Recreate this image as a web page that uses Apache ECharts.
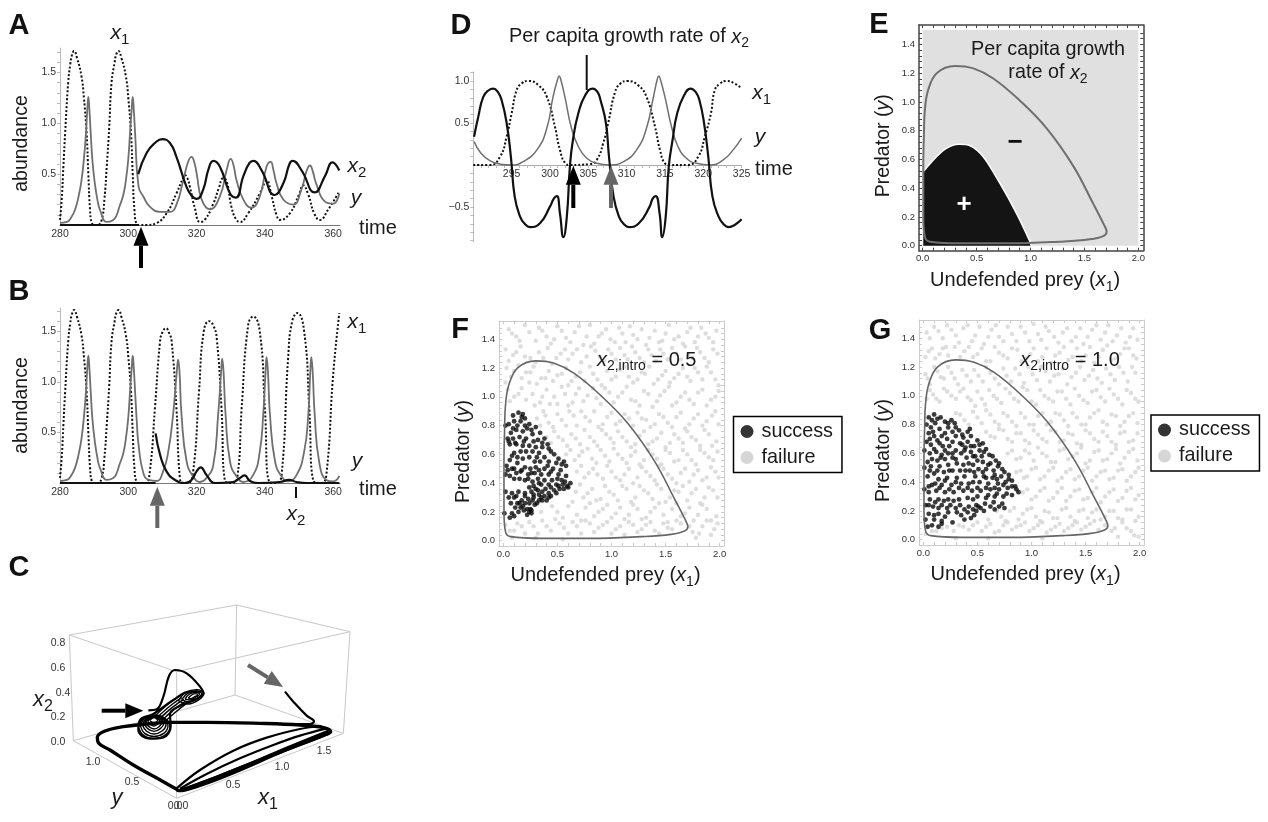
<!DOCTYPE html>
<html><head><meta charset="utf-8">
<style>html,body{margin:0;padding:0;background:#fff}#c{width:1268px;height:822px}</style>
<script src="https://cdn.jsdelivr.net/npm/echarts@6/dist/echarts.min.js"></script></head>
<body><div id="c"></div><script>
// ---------- time series (t, value) ----------
const x1Lead=[[280,.05],[280.5,.25],[281,.58],[281.5,.9],[282.4,1.4],[283,1.58],[283.5,1.67],[284.1,1.71],[285,1.64],[286.3,1.46],[287,1.25],[287.8,.9],[288.3,.5],[288.8,.15],[289.3,.02],[290,0],[291,0],[292.2,.05],[293,.25],[293.7,.58],[294.4,.95],[295.1,1.4],[296,1.6],[296.5,1.68],[297.1,1.71],[298,1.64],[299.3,1.46],[300,1.25],[300.8,.9],[301.3,.5],[301.8,.15],[302.5,.01]];
const yLead=[[280,.02],[282,.03],[283.2,.07],[284.4,.15],[285.5,.29],[286.3,.44],[287,.65],[287.6,.9],[288,1.14],[288.3,1.26],[288.6,1.14],[289,.9],[289.5,.63],[290.2,.41],[291,.24],[291.7,.15],[293.7,.03],[295.6,.05],[296.5,.09],[297.4,.18],[298.5,.29],[299.3,.44],[300,.65],[300.5,.9],[301,1.14],[301.3,1.26],[301.6,1.14],[302,.9]];
const x1A=x1Lead.concat([[303.5,0],[305.4,0],[308.3,.02],[311.2,.115],[314.1,.31],[316,.46],[316.6,.49],[317.3,.46],[318,.38],[319.5,.165],[321,.03],[322.4,.05],[324.9,.21],[326.5,.36],[327.8,.46],[328.8,.43],[330.2,.18],[331.5,.06],[332.7,.03],[335.1,.115],[338.5,.31],[340,.42],[340.5,.44],[342,.28],[343.4,.1],[344.4,.05],[347.3,.115],[350,.3],[351.2,.39],[352.7,.3],[354.5,.11],[356.1,.05],[358.5,.15],[361.8,.33]]);
const yA=yLead.concat([[303,.38],[304.4,.28],[306.3,.18],[309.3,.13],[312.2,.13],[314.1,.2],[316.1,.44],[317.5,.62],[318.5,.67],[319.3,.62],[320,.51],[321.5,.25],[323.9,.155],[326.8,.28],[328.8,.54],[330,.65],[330.8,.59],[331.7,.44],[333.7,.25],[336,.17],[338.5,.28],[340.5,.575],[341.7,.62],[342.5,.54],[343.4,.41],[345.4,.25],[348.3,.2],[350.7,.35],[352.3,.54],[353.2,.585],[354,.53],[355,.41],[357.6,.23],[360,.21],[361.8,.31]]);
const x2A=[[280,0],[302.9,0],[null,null],[302.9,.5],[305.4,.71],[307.8,.806],[310,.845],[312.2,.806],[314.1,.67],[317,.38],[318.5,.29],[320,.257],[321.9,.345],[323.5,.55],[324.9,.63],[326.8,.575],[329.8,.31],[331.5,.27],[333.7,.48],[335.5,.61],[336.6,.63],[339,.54],[342.9,.295],[345.4,.41],[347.2,.6],[348.1,.63],[350.7,.54],[354.6,.32],[357.6,.48],[359.8,.615],[361.8,.535]];
const x1B=x1Lead.concat([[303.5,0],[305.1,0],[306.3,.115],[307.8,.74],[309.3,1.4],[310,1.49],[311,1.53],[312,1.48],[312.7,1.4],[314.1,.74],[315.1,.05],[316,0],[317.5,0],[319,.115],[320.7,.9],[322.1,1.5],[323.7,1.6],[325,1.55],[325.9,1.43],[327.3,.74],[328.3,.02],[330.2,0],[331.9,.05],[333.2,.74],[335.1,1.56],[336.6,1.645],[338.5,1.5],[340,.74],[341.3,.01],[343.4,0],[344.9,.08],[346.8,1.23],[348,1.6],[349.5,1.68],[351.5,1.5],[353,.74],[354.2,.02],[356.6,0],[358,.08],[360,1.07],[361.8,1.68]]);
const yB=yLead.concat([[302.5,.6],[303,.38],[304.4,.1],[306,.03],[308.3,.02],[310.2,.115],[311.7,.31],[313.1,.67],[314.2,1.1],[314.6,1.22],[315,1.1],[315.6,.67],[317.1,.21],[319,.065],[321,.01],[322.9,.05],[324.9,.18],[326.3,.67],[327.2,1.1],[327.5,1.23],[327.9,1.1],[328.5,.67],[329.8,.21],[331.7,.065],[333.7,.01],[336.6,.08],[338.5,.31],[339.5,.67],[340.2,1.1],[340.5,1.245],[340.9,1.1],[341.5,.67],[343,.21],[344.9,.065],[346.8,.016],[349.3,.08],[351.5,.31],[352.7,.67],[353.3,1.1],[353.6,1.245],[354,1.1],[354.6,.67],[355.9,.21],[358,.03],[360,.016],[361.8,.07]]);
const x2B=[[280,0],[308,0],[null,null],[308,.49],[309.3,.28],[311.2,.115],[313.7,.03],[316.6,0],[318.5,.03],[320,.115],[321.2,.155],[322.9,.08],[325.4,0],[330.7,.01],[332.7,.05],[334.1,.075],[335.6,.02],[338,0],[344.4,.01],[347.1,.03],[349.3,.01],[352.2,0],[361.8,0]];
const rateD=[[290.1,.337],[290.65,.575],[291.3,.81],[292,.89],[292.6,.91],[293.2,.87],[293.7,.77],[294.35,.5],[294.9,.1],[295.4,-.377],[296.1,-.615],[296.7,-.7],[297.4,-.74],[298.7,-.694],[300,-.496],[300.5,-.4],[300.9,-.37],[301.3,-.575],[301.75,-.86],[302.2,-.615],[302.6,-.02],[303,.3],[303.7,.615],[304.6,.83],[305.6,.91],[306.2,.87],[306.6,.77],[307.3,.5],[307.7,.1],[308.3,-.377],[309,-.615],[309.6,-.7],[310.3,-.74],[311.6,-.694],[313,-.496],[313.4,-.4],[313.8,-.37],[314.3,-.575],[314.65,-.86],[315.1,-.615],[315.5,-.02],[316,.3],[316.6,.615],[317.5,.83],[318.35,.91],[319,.87],[319.5,.77],[320.1,.5],[320.65,.1],[321.2,-.377],[322,-.615],[322.6,-.7],[323.3,-.74],[324.1,-.714],[325,-.647]];
const x1D=[[290,0],[292.2,0],[293.5,.1],[294.35,.337],[295,.615],[295.65,.89],[296.3,.97],[297.2,1],[298.5,.95],[299.6,.81],[300.65,.456],[301.3,.18],[302,.02],[302.6,0],[305.2,.01],[306.1,.06],[306.95,.26],[307.6,.5],[308.5,.87],[309.2,.97],[310.1,1],[311.5,.95],[312.6,.81],[313.7,.456],[314.35,.18],[315,.02],[315.65,0],[318,0],[319.35,.1],[320.2,.337],[321,.615],[321.5,.89],[322.2,.97],[323,1],[324.1,.97],[325,.91]];
const yD=[[290.1,.28],[291,.14],[292.2,.05],[293.5,.01],[295,0],[296.5,.04],[298.3,.18],[299.6,.44],[300.4,.81],[301,1.02],[301.2,1.06],[301.4,1.02],[301.95,.81],[302.8,.44],[303.7,.22],[304.8,.08],[306.1,.02],[307.8,0],[309.6,.04],[311.3,.18],[312.6,.44],[313.5,.81],[314,1.02],[314.2,1.06],[314.4,1.02],[315,.81],[315.9,.44],[316.7,.22],[317.8,.08],[319.1,.02],[320.9,0],[322.6,.06],[323.9,.18],[325,.32]];
// ---------- phase plane (x1, y) ----------
const limitCycle=[[.006,.2],[.006,.55],[.012,.78],[.02,.94],[.05,1.08],[.13,1.2],[.3,1.25],[.47,1.233],[.655,1.163],[.9,1.01],[1.15,.816],[1.4,.55],[1.58,.294],[1.69,.132],[1.706,.097],[1.675,.067],[1.55,.044],[1.27,.028],[.81,.016],[.35,.016],[.068,.028],[.02,.063],[.006,.2]];
const plusRegion=[[.006,.515],[.13,.62],[.22,.677],[.33,.705],[.44,.695],[.56,.62],[.717,.433],[.87,.225],[.995,.028],[1.005,0]];
const minusRegion=[[0,1.5],[2,1.5]];
const panelTicksX=[0,.5,1,1.5,2], panelTicksY=[0,.2,.4,.6,.8,1,1.2,1.4];
const minorX=[0,.1,.2,.3,.4,.5,.6,.7,.8,.9,1,1.1,1.2,1.3,1.4,1.5,1.6,1.7,1.8,1.9,2];
const minorY=[0,.04,.08,.12,.16,.2,.24,.28,.32,.36,.4,.44,.48,.52,.56,.6,.64,.68,.72,.76,.8,.84,.88,.92,.96,1,1.04,1.08,1.12,1.16,1.2,1.24,1.28,1.32,1.36,1.4,1.44,1.48];
// ---------- introductions, flat x,y pairs ----------
const failureF=[.05,1.47,.12,1.42,.2,1.5,.3,1.39,.36,1.46,.44,1.37,.5,1.49,.58,1.41,.66,1.45,.74,1.36,.8,1.5,.88,1.42,.95,1.47,1.03,1.38,1.1,1.44,1.17,1.49,1.24,1.4,1.32,1.36,1.4,1.46,1.47,1.39,1.53,1.5,1.62,1.42,1.7,1.45,1.77,1.38,1.83,1.48,1.9,1.41,1.97,1.46,
.02,1.33,.09,1.29,.16,1.35,.25,1.27,.33,1.31,.41,1.34,.53,1.3,.6,1.26,.68,1.33,.77,1.28,.85,1.32,.93,1.25,1,1.3,1.08,1.34,1.15,1.26,1.22,1.31,1.3,1.24,1.37,1.29,1.45,1.33,1.52,1.26,1.6,1.3,1.68,1.35,1.75,1.27,1.82,1.31,1.9,1.24,1.98,1.3,
.03,1.2,.07,1.14,.14,1.22,.21,1.17,.28,1.21,.35,1.13,.24,1.1,.42,1.18,.5,1.15,.58,1.2,.63,1.11,.71,1.17,.8,1.21,.87,1.12,.96,1.18,1.04,1.14,1.12,1.21,1.2,1.1,1.28,1.17,1.35,1.21,1.43,1.12,1.5,1.18,1.58,1.13,1.66,1.2,1.73,1.11,1.8,1.17,1.88,1.21,1.96,1.12,
.04,1.05,.1,1,.17,1.06,.27,1.02,.34,.96,.4,1.05,.37,.9,.47,1,.54,1.07,.6,.94,.67,1.02,.74,.97,.83,1.06,.9,.95,.98,1.03,1.06,1,1.14,1.07,1.22,.97,1.3,1.04,1.38,.93,1.45,1.01,1.53,1.07,1.6,.96,1.68,1.03,1.76,.95,1.84,1.05,1.92,.98,1.99,1.04,
.31,.85,.42,.82,.5,.88,.58,.8,.65,.87,.72,.9,.8,.83,.88,.79,.96,.86,1.04,.81,1.12,.88,1.2,.8,1.28,.85,1.36,.79,1.44,.88,1.52,.82,1.6,.86,1.68,.78,1.76,.85,1.84,.8,1.93,.87,1.99,.81,
.4,.72,.47,.76,.55,.7,.63,.74,.71,.67,.8,.72,.87,.66,.95,.74,1.02,.68,1.1,.72,1.18,.65,1.26,.73,1.34,.67,1.42,.71,1.5,.65,1.58,.74,1.66,.68,1.74,.72,1.82,.66,1.9,.74,1.97,.69,
.58,.6,.66,.56,.73,.62,.82,.57,.9,.63,.98,.55,1.06,.6,1.14,.54,1.22,.62,1.3,.56,1.38,.6,1.46,.53,1.54,.61,1.62,.56,1.7,.6,1.78,.53,1.86,.61,1.94,.56,
.68,.48,.75,.44,.83,.5,.92,.43,1,.48,1.08,.42,1.16,.5,1.24,.44,1.32,.48,1.4,.42,1.48,.5,1.56,.43,1.64,.47,1.72,.41,1.8,.49,1.88,.44,1.96,.48,
.67,.34,.74,.3,.82,.36,.9,.29,.98,.34,1.06,.28,1.14,.36,1.22,.3,1.3,.35,1.38,.29,1.46,.36,1.54,.3,1.62,.34,1.7,.28,1.78,.36,1.86,.3,1.94,.35,
.5,.2,.6,.24,.68,.18,.76,.23,.84,.17,.92,.22,1,.16,1.08,.23,1.16,.18,1.24,.22,1.32,.16,1.4,.23,1.48,.18,1.56,.22,1.64,.17,1.72,.23,1.8,.18,1.88,.22,1.97,.17,
.02,.11,.06,.07,.13,.12,.2,.05,.28,.1,.36,.14,.44,.07,.52,.12,.6,.05,.68,.1,.76,.14,.84,.06,.92,.11,1,.05,1.08,.1,1.16,.13,1.24,.06,1.32,.11,1.4,.07,1.48,.12,1.56,.08,1.64,.12,1.75,.06,1.78,.02,1.84,.1,1.92,.04,1.98,.12,.08,.02,.3,.02,.55,.01,
.08,1.44,.15,1.39,.24,1.45,.33,1.48,.4,1.42,.47,1.4,.54,1.46,.62,1.38,.7,1.49,.77,1.42,.84,1.37,.91,1.44,.99,1.4,1.07,1.48,1.13,1.38,1.2,1.43,1.28,1.47,1.35,1.41,1.44,1.38,1.5,1.44,1.58,1.4,1.66,1.37,1.73,1.48,1.8,1.42,1.87,1.44,1.94,1.38,
.05,1.25,.12,1.31,.2,1.28,.3,1.24,.37,1.27,.45,1.23,.49,1.27,.57,1.33,.64,1.3,.72,1.24,.81,1.35,.89,1.28,.97,1.33,1.04,1.26,1.12,1.29,1.19,1.35,1.26,1.27,1.34,1.33,1.41,1.25,1.48,1.3,1.56,1.34,1.64,1.26,1.71,1.29,1.79,1.34,1.86,1.27,1.94,1.33,
.02,1.1,.1,1.18,.17,1.13,.25,1.17,.31,1.09,.39,1.13,.46,1.11,.54,1.16,.6,1.08,.67,1.14,.75,1.11,.83,1.16,.91,1.08,1,1.12,1.08,1.19,1.16,1.14,1.24,1.12,1.31,1.16,1.39,1.09,1.47,1.15,1.54,1.1,1.62,1.16,1.7,1.14,1.77,1.2,1.84,1.12,1.92,1.17,1.99,1.08,
.06,.97,.14,1.02,.21,.98,.29,.94,.43,.95,.36,1,.5,.95,.57,1.02,.64,.96,.7,1.06,.78,1.01,.86,.99,.94,1.06,1.02,.96,1.1,1.03,1.18,.98,1.26,.94,1.34,1.02,1.42,.97,1.49,1.04,1.56,.94,1.64,1,1.72,.98,1.8,1.03,1.88,.94,1.96,1,
.34,.8,.39,.87,.46,.79,.54,.84,.61,.9,.68,.8,.76,.86,.84,.9,.92,.81,1,.89,1.08,.83,1.16,.85,1.24,.89,1.32,.84,1.4,.81,1.48,.86,1.56,.79,1.64,.89,1.72,.81,1.8,.88,1.88,.83,1.96,.9,
.44,.68,.51,.72,.59,.66,.67,.71,.75,.77,.84,.69,.91,.77,.99,.71,1.06,.76,1.14,.69,1.22,.67,1.3,.76,1.38,.69,1.46,.75,1.54,.68,1.62,.71,1.7,.76,1.78,.7,1.86,.77,1.93,.66,
.62,.63,.7,.59,.78,.64,.86,.54,.94,.59,1.02,.64,1.1,.57,1.18,.59,1.26,.53,1.34,.63,1.42,.57,1.5,.63,1.58,.55,1.66,.63,1.74,.56,1.82,.63,1.9,.58,1.98,.62,
.72,.52,.79,.47,.87,.46,.96,.52,1.04,.44,1.12,.46,1.2,.4,1.28,.51,1.36,.45,1.44,.52,1.52,.46,1.6,.4,1.68,.5,1.76,.46,1.84,.42,1.92,.51,1.99,.44,
.71,.39,.78,.33,.86,.28,.94,.38,1.02,.32,1.1,.38,1.18,.27,1.26,.38,1.34,.33,1.42,.39,1.5,.27,1.58,.35,1.66,.38,1.74,.33,1.82,.26,1.9,.37,1.98,.3,
.35,.2,.45,.24,.55,.16,.64,.27,.72,.14,.8,.26,.88,.2,.96,.25,1.04,.19,1.12,.15,1.2,.25,1.28,.15,1.36,.2,1.44,.26,1.52,.13,1.6,.26,1.68,.19,1.76,.14,1.84,.25,1.92,.14,
.1,.07,.17,.1,.24,.13,.32,.05,.4,.1,.48,.15,.56,.09,.64,.13,.72,.05,.8,.12,.88,.09,.96,.13,1.04,.08,1.12,.04,1.2,.11,1.28,.08,1.36,.13,1.44,.05,1.52,.09,1.6,.14,1.72,.1,1.81,.05,1.88,.14,1.95,.08];
const successF=[.09,.87,.14,.89,.18,.88,.2,.85,.1,.83,.16,.83,.05,.81,.24,.81,.22,.78,.12,.77,.18,.76,.3,.79,.02,.8,.07,.75,.15,.72,.27,.74,.34,.75,.04,.71,.09,.71,.21,.71,.32,.7,.38,.71,.06,.67,.12,.67,.24,.66,.19,.69,.3,.65,.36,.65,.41,.67,.44,.62,.27,.62,.16,.62,.1,.61,.33,.61,.38,.58,.47,.6,.51,.57,.24,.58,.18,.57,.06,.56,.03,.52,.13,.54,.29,.55,.34,.55,.42,.55,.56,.55,.58,.52,.08,.5,.2,.51,.3,.51,.25,.5,.38,.5,.46,.5,.53,.49,.12,.47,.16,.48,.02,.46,.06,.45,.23,.46,.29,.47,.35,.46,.42,.46,.51,.46,.58,.45,.1,.43,.15,.43,.2,.42,.27,.41,.32,.43,.38,.42,.45,.42,.54,.42,.62,.4,.6,.37,.55,.39,.49,.39,.42,.39,.35,.39,.28,.38,.24,.37,.3,.36,.02,.34,.08,.33,.14,.34,.2,.33,.36,.34,.42,.33,.47,.35,.52,.36,.56,.36,.05,.3,.1,.3,.17,.28,.23,.29,.28,.32,.33,.32,.38,.31,.44,.31,.4,.28,.36,.28,.07,.26,.13,.26,.2,.26,.24,.26,.31,.26,.11,.23,.16,.23,.22,.22,.25,.22,.29,.25,.14,.2,.19,.21,.24,.2,.26,.19,.08,.19,.1,.17,.06,.16,.01,.19,
.17,.86,.13,.8,.2,.8,.26,.77,.09,.78,.05,.69,.11,.68,.18,.66,.28,.69,.36,.68,.42,.64,.21,.62,.31,.58,.13,.58,.08,.59,.41,.52,.49,.54,.54,.53,.04,.49,.1,.5,.17,.49,.26,.47,.33,.49,.44,.48,.5,.43,.57,.41,.23,.43,.33,.4,.39,.36,.44,.37,.51,.38,.59,.38,.26,.34,.32,.35,.12,.31,.2,.31,.28,.3,.35,.3,.42,.3,.49,.33,.15,.26,.27,.28,.33,.28,.18,.24,.22,.18,.26,.21];
const failureG=[.03,1.44,.1,1.48,.18,1.4,.26,1.46,.33,1.37,.41,1.49,.48,1.42,.56,1.36,.63,1.46,.7,1.41,.78,1.48,.86,1.38,.94,1.44,1.02,1.5,1.09,1.39,1.16,1.45,1.25,1.37,1.33,1.47,1.41,1.41,1.48,1.36,1.56,1.46,1.64,1.39,1.71,1.49,1.79,1.42,1.87,1.37,1.94,1.47,
.05,1.31,.11,1.26,.18,1.33,.23,1.28,.29,1.34,.38,1.31,.46,1.27,.54,1.33,.62,1.24,.7,1.3,.78,1.26,.87,1.32,.95,1.26,1.02,1.33,1.1,1.27,1.18,1.23,1.26,1.3,1.34,1.25,1.42,1.33,1.5,1.28,1.58,1.23,1.66,1.32,1.74,1.25,1.82,1.29,1.9,1.33,1.97,1.26,
.02,1.15,.06,1.08,.13,1.17,.19,1.12,.26,1.16,.32,1.08,.4,1.14,.47,1.18,.55,1.1,.62,1.16,.7,1.08,.77,1.14,.85,1.19,.93,1.09,1.01,1.15,1.09,1.2,1.17,1.1,1.25,1.15,1.33,1.08,1.41,1.16,1.49,1.11,1.57,1.18,1.65,1.09,1.73,1.15,1.81,1.2,1.89,1.1,1.96,1.16,
.03,.98,.09,1.01,.15,.96,.22,1.03,.3,.98,.37,1.05,.44,.97,.5,1.03,.57,.94,.65,1,.72,.95,.8,1.02,.88,.96,.96,1.04,1.04,.94,1.12,1,1.2,.96,1.28,1.03,1.36,.94,1.44,1,1.52,.95,1.6,1.04,1.68,.96,1.76,1.01,1.84,.94,1.92,1.02,1.99,.96,
.3,.88,.38,.83,.46,.89,.54,.81,.62,.87,.7,.8,.78,.86,.86,.79,.94,.85,1.02,.8,1.1,.88,1.18,.82,1.26,.87,1.34,.79,1.42,.85,1.5,.8,1.58,.88,1.66,.82,1.74,.87,1.82,.79,1.9,.86,1.98,.81,
.58,.75,.66,.71,.74,.76,.82,.68,.9,.74,.98,.67,1.06,.73,1.14,.68,1.22,.75,1.3,.69,1.38,.73,1.46,.66,1.54,.74,1.62,.68,1.7,.72,1.78,.66,1.86,.75,1.94,.69,
.78,.6,.86,.56,.94,.62,1.02,.55,1.1,.6,1.18,.54,1.26,.62,1.34,.56,1.42,.6,1.5,.53,1.58,.61,1.66,.55,1.74,.6,1.82,.53,1.9,.61,1.98,.55,
.86,.47,.93,.43,1,.49,1.08,.42,1.16,.48,1.24,.41,1.32,.47,1.4,.42,1.48,.48,1.56,.41,1.64,.47,1.72,.42,1.8,.48,1.88,.41,1.96,.47,
.92,.33,1,.28,1.08,.34,1.16,.27,1.24,.33,1.32,.27,1.4,.34,1.48,.28,1.56,.33,1.64,.26,1.72,.33,1.8,.27,1.88,.34,1.96,.28,
.72,.16,.8,.2,.88,.14,.96,.21,1.04,.16,1.12,.2,1.2,.15,1.28,.21,1.36,.16,1.44,.2,1.52,.15,1.6,.21,1.68,.16,1.76,.2,1.84,.14,1.92,.21,1.99,.16,
.02,.04,.12,.06,.22,.09,.33,.1,.42,.07,.5,.12,.58,.09,.66,.05,.74,.1,.82,.07,.9,.1,.98,.06,1.06,.1,1.14,.05,1.22,.09,1.3,.06,1.38,.1,1.46,.07,1.54,.11,1.62,.07,1.74,.06,1.8,.02,1.88,.08,1.95,.03,1.99,.02,.3,.01,.6,.01,1.1,.01,
.06,1.4,.14,1.45,.22,1.49,.3,1.42,.37,1.47,.45,1.38,.52,1.48,.6,1.41,.67,1.49,.74,1.38,.82,1.43,.9,1.48,.98,1.38,1.06,1.43,1.13,1.48,1.21,1.41,1.29,1.44,1.37,1.38,1.45,1.47,1.52,1.41,1.6,1.49,1.68,1.44,1.75,1.38,1.83,1.47,1.91,1.41,1.98,1.39,
.02,1.27,.08,1.33,.15,1.29,.21,1.34,.34,1.27,.42,1.34,.5,1.29,.58,1.24,.66,1.34,.74,1.28,.82,1.33,.91,1.24,.99,1.29,1.06,1.24,1.14,1.33,1.22,1.28,1.3,1.34,1.38,1.27,1.46,1.24,1.54,1.34,1.62,1.27,1.7,1.35,1.78,1.26,1.86,1.33,1.94,1.28,
.04,1.12,.1,1.2,.16,1.13,.23,1.2,.29,1.12,.36,1.18,.44,1.1,.51,1.14,.58,1.2,.66,1.12,.74,1.19,.81,1.1,.89,1.15,.97,1.2,1.05,1.11,1.13,1.17,1.21,1.14,1.29,1.19,1.37,1.13,1.45,1.2,1.53,1.14,1.61,1.12,1.69,1.19,1.77,1.11,1.85,1.16,1.93,1.2,
.06,1.04,.12,.98,.19,1.05,.26,1,.34,1.03,.41,.99,.48,.93,.54,.98,.61,1.04,.68,.98,.76,1.05,.84,.98,.92,1.06,1,.96,1.08,1.04,1.16,.98,1.24,1.03,1.32,.98,1.4,1.05,1.48,.97,1.56,1.03,1.64,.99,1.72,1.05,1.8,.98,1.88,1.04,1.96,.98,
.34,.87,.42,.8,.5,.85,.58,.9,.66,.82,.74,.88,.82,.82,.9,.88,.98,.8,1.06,.86,1.14,.8,1.22,.88,1.3,.83,1.38,.88,1.46,.8,1.54,.85,1.62,.9,1.7,.8,1.78,.86,1.86,.82,1.94,.88,
.62,.72,.7,.77,.78,.7,.86,.74,.94,.69,1.02,.76,1.1,.7,1.18,.76,1.26,.68,1.34,.74,1.42,.67,1.5,.76,1.58,.7,1.66,.75,1.74,.68,1.82,.74,1.9,.68,1.98,.74,
.82,.62,.9,.57,.98,.6,1.06,.64,1.14,.58,1.22,.54,1.3,.63,1.38,.58,1.46,.64,1.54,.55,1.62,.62,1.7,.56,1.78,.63,1.86,.57,1.94,.63,
.9,.48,.96,.44,1.04,.5,1.12,.44,1.2,.5,1.28,.43,1.36,.49,1.44,.44,1.52,.5,1.6,.44,1.68,.48,1.76,.43,1.84,.49,1.92,.44,1.99,.5,
.96,.35,1.04,.3,1.12,.36,1.2,.29,1.28,.36,1.36,.3,1.44,.35,1.52,.29,1.6,.36,1.68,.3,1.76,.35,1.84,.29,1.92,.36,1.99,.31,
.6,.14,.68,.2,.76,.13,.84,.22,.92,.18,1,.22,1.08,.13,1.16,.19,1.24,.15,1.32,.22,1.4,.13,1.48,.21,1.56,.19,1.64,.14,1.72,.2,1.8,.15,1.88,.21,1.96,.13,
.08,.06,.17,.08,.28,.06,.37,.09,.46,.1,.54,.06,.62,.11,.7,.06,.78,.12,.86,.09,.94,.12,1.02,.08,1.1,.12,1.18,.07,1.26,.11,1.34,.08,1.42,.12,1.5,.09,1.58,.13,1.68,.1,1.77,.08,1.84,.12,1.92,.06];
const successG=[.1,.87,.05,.85,.16,.85,.03,.8,.11,.81,.2,.82,.26,.83,.29,.81,.07,.78,.15,.77,.23,.78,.05,.74,.1,.72,.17,.72,.27,.75,.33,.76,.41,.75,.44,.72,.37,.71,.3,.72,.22,.7,.13,.69,.03,.68,.07,.66,.18,.65,.24,.65,.34,.67,.41,.68,.5,.69,.55,.67,.47,.65,.39,.64,.3,.62,.01,.62,.06,.6,.12,.61,.17,.59,.23,.6,.35,.6,.44,.61,.52,.62,.58,.63,.61,.59,.54,.58,.48,.58,.4,.57,.27,.57,.2,.56,.13,.55,.04,.54,.01,.5,.07,.51,.15,.51,.23,.52,.31,.53,.37,.52,.46,.52,.55,.54,.62,.53,.67,.55,.69,.51,.73,.49,.65,.48,.58,.49,.51,.49,.43,.48,.34,.48,.27,.48,.19,.47,.1,.46,.04,.44,.14,.42,.22,.43,.31,.43,.38,.44,.48,.44,.56,.44,.64,.43,.72,.44,.79,.45,.82,.41,.76,.4,.69,.39,.6,.39,.52,.4,.42,.39,.35,.39,.26,.38,.17,.38,.08,.38,.01,.35,.05,.33,.12,.34,.2,.33,.28,.33,.37,.34,.45,.34,.53,.34,.62,.35,.7,.35,.78,.36,.85,.37,.88,.33,.82,.31,.74,.3,.66,.3,.58,.29,.5,.3,.41,.29,.33,.28,.23,.28,.14,.28,.06,.28,.02,.24,.09,.23,.17,.24,.25,.24,.34,.24,.42,.23,.49,.24,.57,.25,.65,.26,.73,.25,.75,.22,.66,.21,.56,.2,.49,.2,.41,.19,.31,.19,.23,.19,.14,.18,.05,.18,.02,.14,.1,.14,.17,.13,.27,.12,.38,.14,.44,.15,.47,.17,.04,.09,.08,.1,.14,.09,.17,.11,.51,.23,
.08,.83,.13,.84,.23,.81,.09,.75,.2,.74,.3,.78,.36,.73,.43,.77,.06,.7,.15,.67,.27,.68,.36,.66,.44,.65,.52,.66,.1,.63,.2,.62,.27,.6,.38,.62,.46,.58,.56,.61,.64,.58,.08,.56,.16,.57,.3,.56,.42,.53,.5,.55,.6,.52,.7,.53,.06,.48,.13,.48,.24,.48,.39,.48,.47,.47,.55,.47,.66,.45,.75,.47,.79,.42,.68,.42,.58,.43,.46,.4,.3,.4,.2,.41,.11,.39,.05,.37,.15,.36,.24,.35,.33,.36,.41,.36,.5,.36,.58,.36,.66,.36,.74,.38,.82,.37,.86,.35,.77,.32,.68,.32,.6,.31,.46,.28,.28,.27,.19,.27,.11,.26,.05,.24,.14,.22,.22,.22,.3,.22,.38,.21,.46,.21,.53,.22,.62,.23,.7,.23,.35,.17,.2,.16,.1,.17];
// ---------- panel C: strands read in the picture plane ----------
const boxEdges=[[[220,572],[530,745],[1030,550],[705,435],[220,572]],[[208,255],[530,365],[1050,245],[710,165],[208,255]],[[220,572],[208,255]],[[530,745],[530,365]],[[1030,550],[1050,245]],[[705,435],[710,165]]];
const strandsHeavy=[[[530,718],[490,695],[400,645],[330,600],[295,578],[292,562],[315,543],[370,530],[430,523],[510,517],[620,517],[780,520],[900,525],[970,533],[992,545],[970,556],[850,603],[700,668],[600,706],[535,722],[530,718]],[[545,722],[700,662],[860,598],[985,550]]];
const strandsLight=[[[530,715],[600,660],[700,602],[800,563],[900,537],[965,528]],[[540,716],[620,672],[720,625],[820,585],[900,557],[978,536]],[[545,718],[650,680],[750,640],[850,597],[985,542]],[[445,481],[470,478],[490,440],[507,378],[525,360],[560,370],[600,410],[610,430],[590,447],[540,467],[510,492],[512,530],[490,562],[450,566],[415,540],[420,510],[460,492],[520,450],[570,425],[605,425]],[[855,425],[880,455],[920,497],[942,514],[930,522],[850,522]]];
const strandsRings=[[[415,530],[430,505],[462,495],[495,505],[510,530],[495,555],[462,565],[430,555],[415,530]],[[421,527],[434,505],[462,496],[491,505],[504,527],[491,550],[462,559],[434,550],[421,527]],[[427,524],[439,505],[462,497],[486,505],[498,524],[486,543],[462,552],[439,543],[427,524]],[[433,521],[443,505],[462,498],[481,505],[491,521],[481,536],[462,544],[443,536],[433,521]],[[438,518],[447,505],[462,499],[477,505],[485,518],[477,530],[462,537],[447,530],[438,518]],[[444,514],[451,505],[462,501],[473,505],[479,514],[473,523],[462,528],[451,523],[444,514]],[[449,511],[455,506],[462,503],[469,506],[473,511],[469,516],[462,519],[455,516],[449,511]],[[535,452],[558,427],[590,419],[612,429],[597,449],[565,462],[535,452]],[[545,449],[563,430],[588,423],[605,431],[592,445],[568,456],[545,449]],[[555,447],[569,432],[587,427],[599,433],[587,442],[570,450],[555,447]],[[565,444],[575,435],[586,431],[593,435],[584,440],[572,446],[565,444]],[[465,498],[505,462],[540,438]],[[472,502],[510,468],[545,443]],[[479,506],[516,473],[551,448]],[[486,511],[522,479],[557,453]],[[493,516],[528,485],[563,458]]];
// ---------- helpers ----------
const FONT='"Liberation Sans",Arial,sans-serif';
const rich=s=>({t:{fontSize:s,fontFamily:FONT,color:'#1a1a1a',lineHeight:s+7,verticalAlign:'middle'},i:{fontSize:s,fontFamily:FONT,fontStyle:'italic',color:'#1a1a1a',lineHeight:s+7,verticalAlign:'middle'},s:{fontSize:Math.round(s*.72),fontFamily:FONT,color:'#1a1a1a',lineHeight:Math.round(s*.72),verticalAlign:'bottom'}});
const pairs=a=>{const o=[];for(let i=0;i<a.length;i+=2)o.push([a[i],a[i+1]]);return o};
const txt=(x,y,text,size=19,rotation=0)=>({type:'text',x,y,rotation,z:50,style:{text,rich:rich(size),fontSize:size,fontFamily:FONT,fill:'#1a1a1a',align:'center',verticalAlign:'middle'}});
const letter=(x,y,l)=>({type:'text',x,y,z:50,style:{text:l,fontSize:29,fontWeight:'bold',fontFamily:FONT,fill:'#111',align:'center',verticalAlign:'middle'}});
const tick=(x,y,l)=>({type:'text',x,y,z:50,style:{text:l,fontSize:10.5,fontFamily:FONT,fill:'#333',align:'center',verticalAlign:'middle'}});
function arrow(x0,y0,x1,y1,color,headLen=19,headW=7.5,shaft=4){
 const d=Math.hypot(x1-x0,y1-y0),ux=(x1-x0)/d,uy=(y1-y0)/d,nx=-uy,ny=ux,bx=x1-ux*headLen,by=y1-uy*headLen;
 return [{type:'line',z:60,shape:{x1:x0,y1:y0,x2:bx,y2:by},style:{stroke:color,lineWidth:shaft}},
 {type:'polygon',z:60,shape:{points:[[x1,y1],[bx+nx*headW,by+ny*headW],[bx-nx*headW,by-ny*headW]]},style:{fill:color}}];
}
const DOT={type:[2,2],width:2,color:'#111'};
const ln=(gi,data,style,extra={})=>Object.assign({type:'line',xAxisIndex:gi,yAxisIndex:gi,data,showSymbol:false,symbol:'none',smooth:.5,connectNulls:false,lineStyle:style,silent:true},extra);
const GR={width:1.8,color:'#6f6f6f'}, BK={width:2.2,color:'#111'};
const tl=(c='#333')=>({fontSize:10.5,fontFamily:FONT,color:c,margin:4});
const f1=v=>v<0?'\u2212'+(-v).toFixed(1):v.toFixed(1);
function axT(gi,min,max,labels,minors,o={}){return Object.assign({gridIndex:gi,type:'value',min,max,splitLine:{show:false},axisLine:{show:true,onZero:false,lineStyle:{color:'#bbb',width:1}},axisTick:{show:true,length:3,inside:false,customValues:minors,lineStyle:{color:'#bbb'}},axisLabel:Object.assign(tl(),{customValues:labels})},o)}
// ---------- layout ----------
const grid=[
 {left:60,top:48,width:280,height:177},{left:60,top:308,width:280,height:175},
 {left:0,top:550,width:400,height:270},{left:473.3,top:72,width:268.3,height:170},
 {left:919,top:25,width:224.3,height:225.7},{left:499,top:321,width:225,height:225},{left:919,top:320,width:225,height:225}];
const tk=[280,300,320,340,360], tm=[280,290,300,310,320,330,340,350,360];
const yk=[.5,1,1.5], ym=[.1,.2,.3,.4,.5,.6,.7,.8,.9,1,1.1,1.2,1.3,1.4,1.5,1.6,1.7];
const name=(s,pad)=>({nameLocation:'middle',nameTextStyle:{rich:rich(s),fontFamily:FONT,fontSize:s,padding:pad}});
const UP='{t|Undefended prey (}{i|x}{s|1}{t|)}', PR='{t|Predator (}{i|y}{t|)}';
const panelStyle=(c,w)=>({axisLine:{show:true,onZero:false,lineStyle:{color:c,width:w}},axisTick:{show:true,inside:true,length:3,lineStyle:{color:c}}});
function panel(gi,xmin,xmax,ymin,ymax,c,w,padY){
 const X=axT(gi,xmin,xmax,panelTicksX,minorX,Object.assign({},name(20,[0,12,0,0]),{name:UP,nameGap:16})),Y=axT(gi,ymin,ymax,panelTicksY,minorY,Object.assign({},name(19.5,[0,padY,0,0]),{name:PR,nameGap:22}));
 const s=panelStyle(c,w);
 Object.assign(X.axisLine,s.axisLine);Object.assign(Y.axisLine,s.axisLine);
 X.axisTick=Object.assign(s.axisTick,{customValues:minorX});Y.axisTick=Object.assign({},panelStyle(c,w).axisTick,{customValues:minorY});
 X.axisLabel=Object.assign(X.axisLabel,{fontSize:9.5,margin:3,formatter:f1});Y.axisLabel=Object.assign(Y.axisLabel,{fontSize:9.5,margin:4,formatter:f1});
 return {X,Y};
}
const E=panel(4,-.034,2.046,-.035,1.535,'#444',1.5,16),F=panel(5,-.04,2.04,-.037,1.527,'#ccc',1,36),G=panel(6,-.04,2.04,-.037,1.527,'#ccc',1,36);
const mirror=(gi,min,max,minors,pos,c,w)=>({gridIndex:gi,type:'value',position:pos,min,max,splitLine:{show:false},axisLabel:{show:false},axisLine:{show:true,onZero:false,lineStyle:{color:c,width:w}},axisTick:{show:true,inside:true,length:3,customValues:minors,lineStyle:{color:c}}});
const xAxis=[
 axT(0,280,362,tk,tm,{axisLine:{show:true,onZero:false,lineStyle:{color:'#777',width:1}},axisTick:{show:false}}),
 axT(1,280,362,tk,tm,{axisLine:{show:true,onZero:false,lineStyle:{color:'#777',width:1}},axisTick:{show:false}}),
 {gridIndex:2,type:'value',min:0,max:1200,show:false},
 axT(3,290,325,[295,300,305,310,315,320,325],[291,292,293,294,295,296,297,298,299,300,301,302,303,304,305,306,307,308,309,310,311,312,313,314,315,316,317,318,319,320,321,322,323,324,325],{offset:-77,axisLine:{show:true,onZero:false,lineStyle:{color:'#aaa',width:1}}}),
 E.X,F.X,G.X,
 mirror(4,-.034,2.046,minorX,'top','#444',1.5),mirror(5,-.04,2.04,minorX,'top','#ccc',1),mirror(6,-.04,2.04,minorX,'top','#ccc',1)];
const ay=(gi,max,pad)=>axT(gi,0,max,yk,ym,Object.assign({},name(19.5,[0,pad,0,0]),{name:'{t|abundance}',nameGap:25}));
const AY=ay(0,1.74,14),BY=ay(1,1.73,20);AY.axisLabel.formatter=f1;BY.axisLabel.formatter=f1;
const yAxis=[AY,BY,
 {gridIndex:2,type:'value',min:0,max:810,inverse:true,show:false},
 axT(3,-.917,1.107,[-.5,.5,1],[-.9,-.8,-.7,-.6,-.5,-.4,-.3,-.2,-.1,.1,.2,.3,.4,.5,.6,.7,.8,.9,1,1.1],{axisLabel:Object.assign(tl(),{customValues:[-.5,.5,1],formatter:f1})}),
 E.Y,F.Y,G.Y,
 mirror(4,-.035,1.535,minorY,'right','#444',1.5),mirror(5,-.037,1.527,minorY,'right','#ccc',1),mirror(6,-.037,1.527,minorY,'right','#ccc',1)];
// ---------- series ----------
const STR={smooth:.4};
const series=[
 ln(0,x1A,DOT,{name:'x1'}),ln(0,yA,GR,{name:'y'}),ln(0,x2A,BK,{name:'x2'}),
 ln(1,x1B,DOT,{name:'x1'}),ln(1,yB,GR,{name:'y'}),ln(1,x2B,BK,{name:'x2'}),
 ...boxEdges.map(d=>ln(2,d,{width:1,color:'#c8c8c8'},{smooth:false})),
 ...strandsHeavy.map(d=>ln(2,d,{width:3.4,color:'#000'},STR)),
 ...strandsLight.map(d=>ln(2,d,{width:2.2,color:'#000'},STR)),
 ...strandsRings.map(d=>ln(2,d,{width:1.4,color:'#000'},STR)),
 ln(3,x1D,DOT,{name:'x1'}),ln(3,yD,{width:1.5,color:'#6f6f6f'},{name:'y'}),ln(3,rateD,BK,{name:'rate'}),
 ln(4,minusRegion,{width:0},{smooth:false,areaStyle:{color:'#e0e0e0',opacity:1,origin:0}}),
 ln(4,plusRegion,{width:1.5,color:'#fff'},{areaStyle:{color:'#141414',opacity:1,origin:0},smooth:.3}),
 ln(4,limitCycle,{width:2,color:'#6f6f6f'},STR),
 {type:'scatter',name:'failure',xAxisIndex:5,yAxisIndex:5,data:pairs(failureF),symbolSize:4.4,itemStyle:{color:'#d4d4d4'},silent:true},
 ln(5,limitCycle,{width:1.6,color:'#666'},STR),
 {type:'scatter',name:'success',xAxisIndex:5,yAxisIndex:5,data:pairs(successF),symbolSize:4.8,itemStyle:{color:'#0a0a0a'},silent:true},
 {type:'scatter',name:'failure',xAxisIndex:6,yAxisIndex:6,data:pairs(failureG),symbolSize:4.4,itemStyle:{color:'#d4d4d4'},silent:true},
 ln(6,limitCycle,{width:1.6,color:'#666'},STR),
 {type:'scatter',name:'success',xAxisIndex:6,yAxisIndex:6,data:pairs(successG),symbolSize:4.8,itemStyle:{color:'#0a0a0a'},silent:true}
];
const legendData=[{name:'success',icon:'circle',itemStyle:{color:'#000'}},{name:'failure',icon:'circle',itemStyle:{color:'#ccc'}}];
const legendOpt=(left,top)=>({show:true,left,top,orient:'vertical',data:legendData,selectedMode:false,itemWidth:13,itemHeight:13,itemGap:6,padding:[5,9,5,7],borderColor:'#000',borderWidth:1.5,backgroundColor:'#fff',textStyle:{fontSize:19.8,fontFamily:FONT,color:'#1a1a1a',padding:[0,0,0,3]}});
// ---------- annotations ----------
const g=[
 letter(19,26,'A'),letter(19,292,'B'),letter(19,568,'C'),letter(461,26,'D'),letter(879,25,'E'),letter(460,330,'F'),letter(880,331,'G'),
 txt(120,33,'{i|x}{s|1}',21),txt(357,166,'{i|x}{s|2}',21),txt(356,198,'{i|y}',21),txt(378,228,'{t|time}',20),
 txt(357,322,'{i|x}{s|1}',21),txt(357,461,'{i|y}',21),txt(378,489,'{t|time}',20),txt(296,514,'{i|x}{s|2}',21),
 {type:'line',z:60,shape:{x1:296,y1:487,x2:296,y2:498},style:{stroke:'#111',lineWidth:2}},
 ...arrow(141,268,141,226.7,'#000'),...arrow(157.3,528,157.3,486.7,'#666'),
 txt(43,700,'{i|x}{s|2}',22),txt(117,798,'{i|y}',22),txt(268,798,'{i|x}{s|1}',22),
 tick(58,643,'0.8'),tick(58,668,'0.6'),tick(63,693,'0.4'),tick(58,717,'0.2'),tick(58,742,'0.0'),
 tick(324,751,'1.5'),tick(282,767,'1.0'),tick(233,785,'0.5'),tick(93,762,'1.0'),tick(132,782,'0.5'),tick(175,806,'0.0'),tick(181,806,'0.0'),
 ...arrow(101.7,710.7,143.3,710.7,'#000',18),...arrow(248,665,283,687,'#666',18),
 txt(629,37,'{t|Per capita growth rate of }{i|x}{s|2}',19.9),
 {type:'line',z:60,shape:{x1:586.7,y1:55,x2:586.7,y2:90},style:{stroke:'#111',lineWidth:2}},
 txt(761.7,93,'{i|x}{s|1}',21),txt(760,137,'{i|y}',21),txt(774,169,'{t|time}',20),
 ...arrow(573.3,208,573.3,165.7,'#000'),...arrow(611,208,611,165.7,'#666'),
 txt(1048,50,'{t|Per capita growth}',19.8),txt(1048,73,'{t|rate of }{i|x}{s|2}',19.8),
 {type:'text',x:1015,y:143,z:60,style:{text:'\u2212',fontSize:26,fontWeight:'bold',fontFamily:FONT,fill:'#111',align:'center',verticalAlign:'middle'}},
 {type:'text',x:964,y:204.7,z:60,style:{text:'+',fontSize:26,fontWeight:'bold',fontFamily:FONT,fill:'#fff',align:'center',verticalAlign:'middle'}},
 txt(646.7,360,'{i|x}{s|2,intro}{t| = 0.5}',20),txt(1070,360,'{i|x}{s|2,intro}{t| = 1.0}',20)
];
const chart=echarts.init(document.getElementById('c'),null,{renderer:'canvas'});
chart.setOption({animation:false,backgroundColor:'#fff',textStyle:{fontFamily:FONT},grid:grid.map(o=>Object.assign({containLabel:false},o)),xAxis,yAxis,series,legend:[legendOpt(733.5,416.5),legendOpt(1151,415)],graphic:g,tooltip:{show:false}});
</script></body></html>
